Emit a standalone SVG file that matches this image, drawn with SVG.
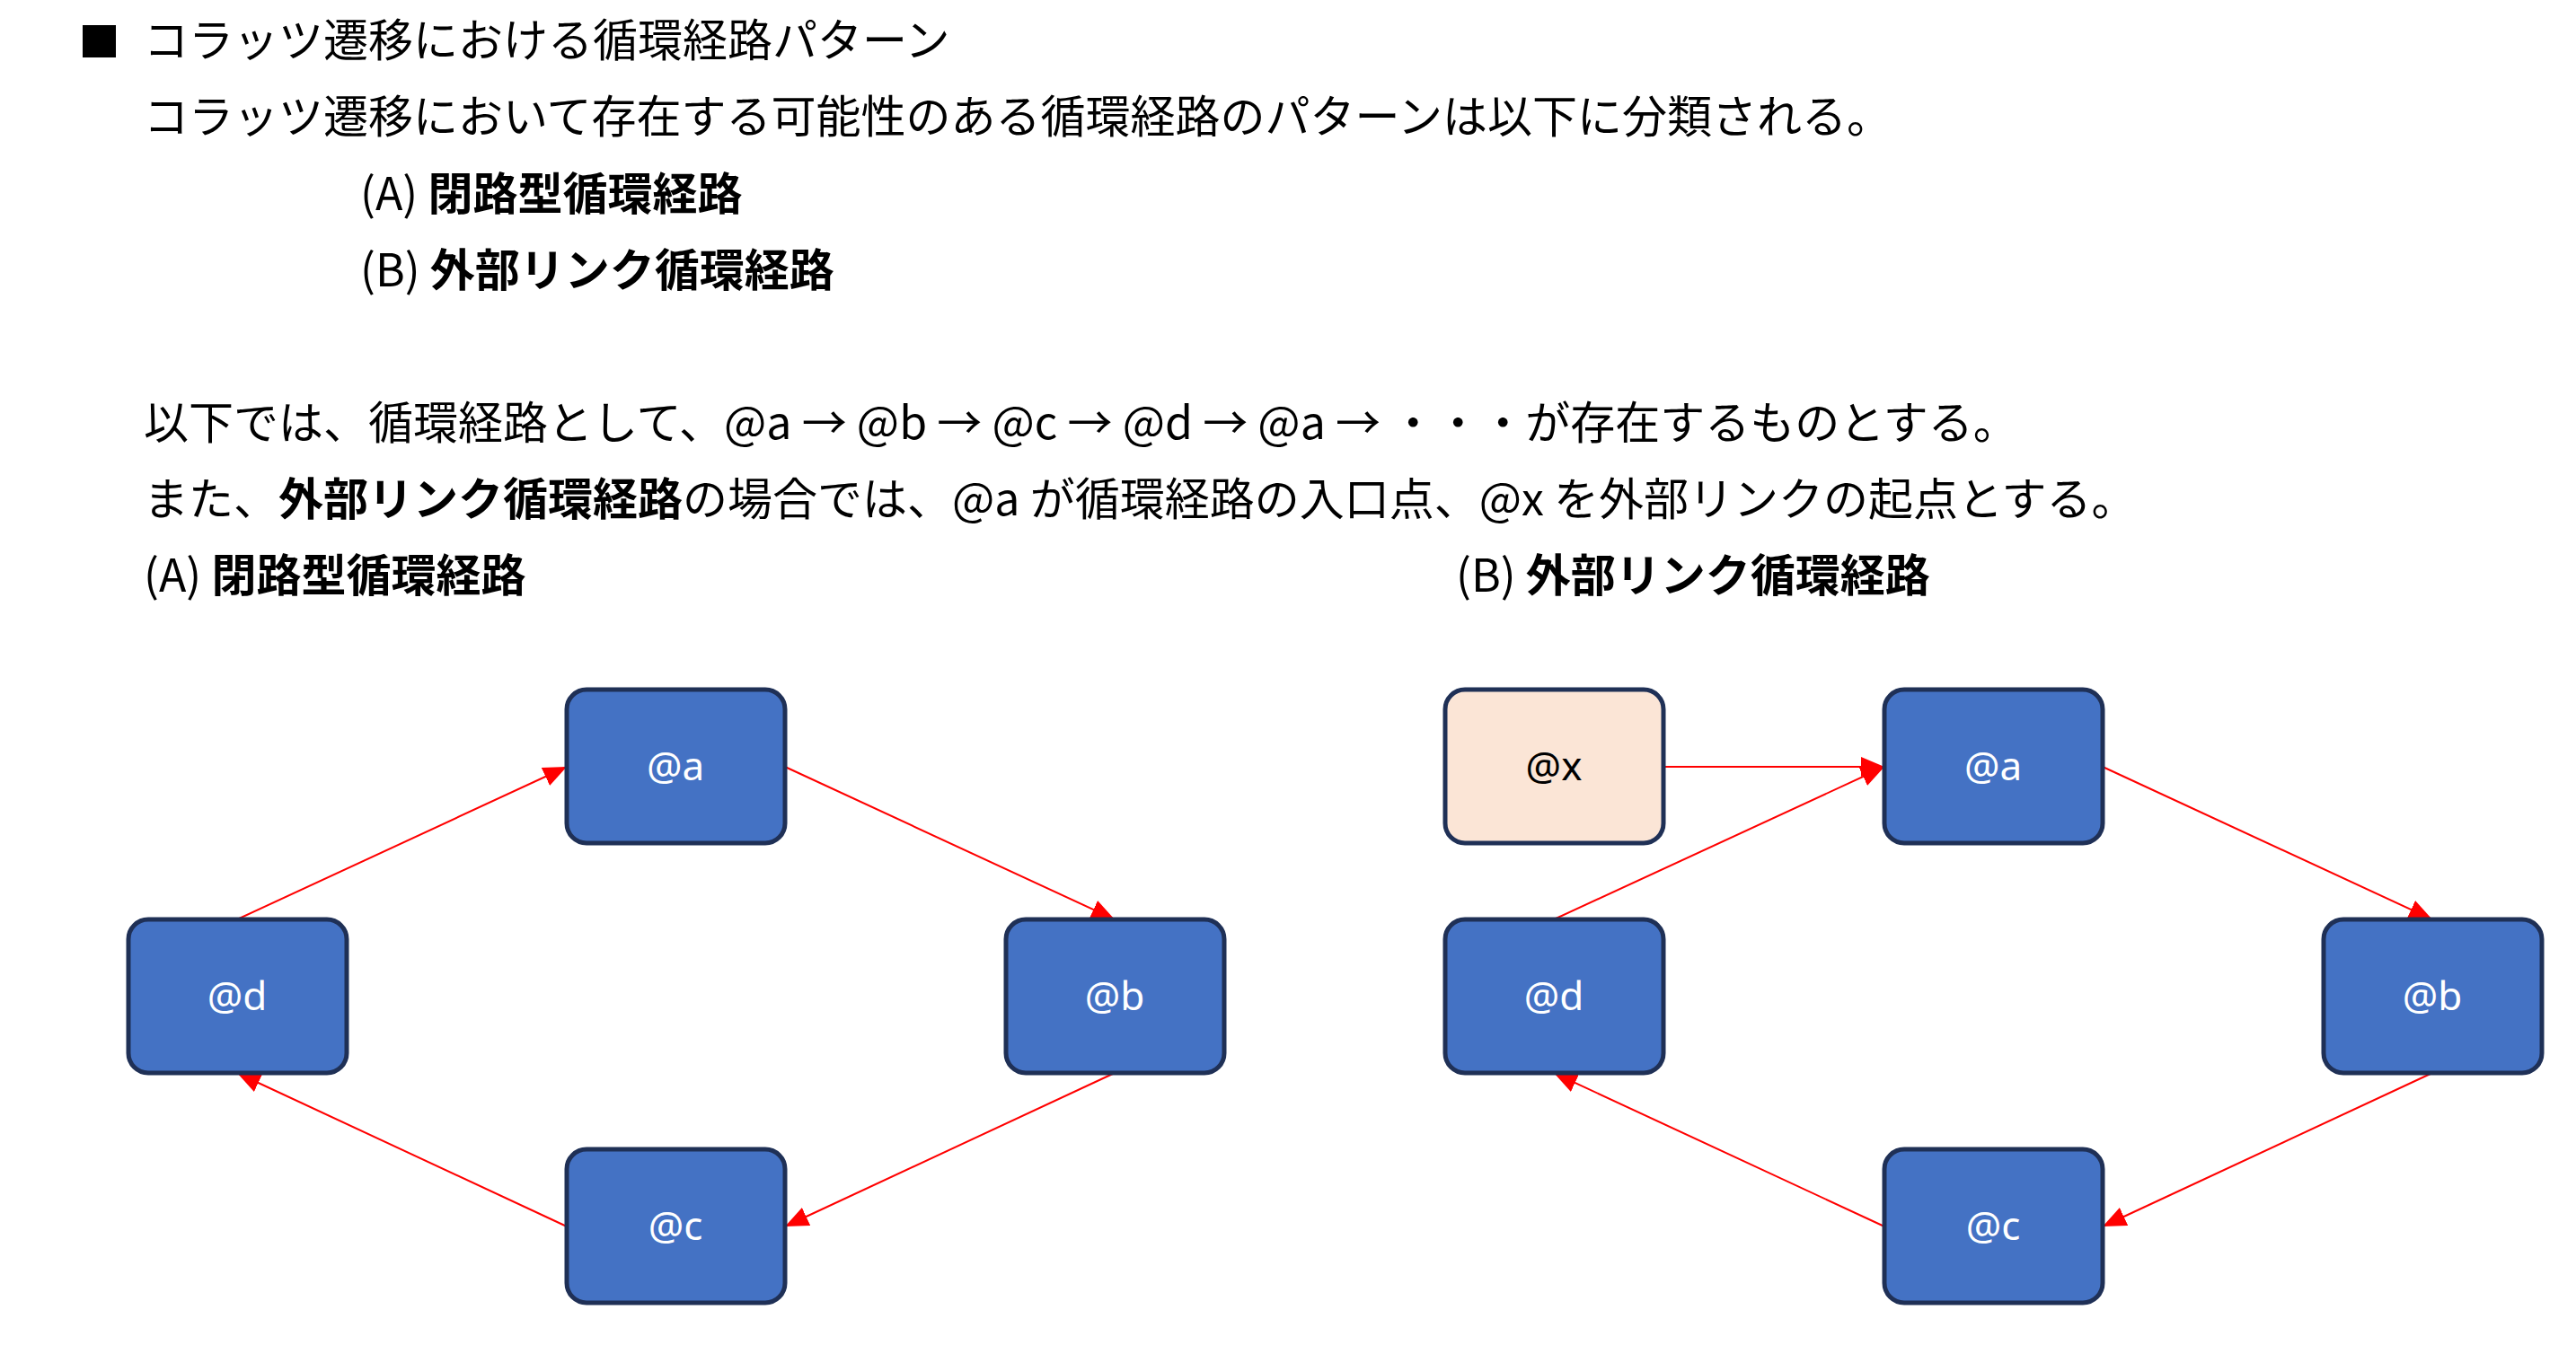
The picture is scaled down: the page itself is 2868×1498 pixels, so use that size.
<svg xmlns="http://www.w3.org/2000/svg" width="2868" height="1498" viewBox="0 0 2868 1498">
<style>
.t{font-family:"Noto Sans CJK JP","Noto Sans",sans-serif;font-size:50px;fill:#000}
.b{font-weight:bold}
.box{fill:#4472C4;stroke:#1F3056;stroke-width:5}
.bx{fill:#FBE5D6;stroke:#1F3056;stroke-width:5}
.lbl{font-family:"Noto Sans","Liberation Sans",sans-serif;font-size:44px;fill:#fff;text-anchor:middle}
.c{stroke:#FF0000;stroke-width:2;fill:none;marker-end:url(#ah)}
</style>
<defs>
<marker id="ah" markerUnits="userSpaceOnUse" markerWidth="28" markerHeight="22" refX="26" refY="11" orient="auto">
<path d="M0,0 L26,11 L0,22 Z" fill="#FF0000"/>
</marker>
</defs>
<rect width="2868" height="1498" fill="#fff"/>
<rect x="92" y="28" width="37" height="36" fill="#000"/>
<text class="t" x="160" y="63">コラッツ遷移における循環経路パターン</text>
<text class="t" x="160" y="148">コラッツ遷移において存在する可能性のある循環経路のパターンは以下に分類される。</text>
<text class="t" x="401" y="234">(A) <tspan class="b">閉路型循環経路</tspan></text>
<text class="t" x="401" y="319">(B) <tspan class="b">外部リンク循環経路</tspan></text>
<text class="t" x="160" y="489">以下では、循環経路として、@a → @b → @c → @d → @a → ・・・が存在するものとする。</text>
<text class="t" x="160" y="574">また、<tspan class="b">外部リンク循環経路</tspan>の場合では、@a が循環経路の入口点、@x を外部リンクの起点とする。</text>
<text class="t" x="160" y="659">(A) <tspan class="b">閉路型循環経路</tspan></text>
<text class="t" x="1621" y="659">(B) <tspan class="b">外部リンク循環経路</tspan></text>
<g id="connectors">
<line class="c" x1="874" y1="854" x2="1241" y2="1024"/>
<line class="c" x1="1241" y1="1195" x2="874" y2="1366"/>
<line class="c" x1="631" y1="1366" x2="264" y2="1195"/>
<line class="c" x1="264" y1="1024" x2="631" y2="854"/>
<line class="c" x1="1852" y1="854" x2="2098" y2="854" stroke-width="3"/>
<line class="c" x1="2341" y1="854" x2="2708" y2="1024"/>
<line class="c" x1="2708" y1="1195" x2="2341" y2="1366"/>
<line class="c" x1="2098" y1="1366" x2="1730" y2="1195"/>
<line class="c" x1="1730" y1="1024" x2="2098" y2="854"/>
</g>
<g id="A_a"><rect class="box" x="631" y="768" width="243" height="171" rx="22"/><text class="lbl" x="752" y="869">@a</text></g>
<g id="A_b"><rect class="box" x="1120" y="1024" width="243" height="171" rx="22"/><text class="lbl" x="1241" y="1125">@b</text></g>
<g id="A_c"><rect class="box" x="631" y="1280" width="243" height="171" rx="22"/><text class="lbl" x="752" y="1381">@c</text></g>
<g id="A_d"><rect class="box" x="143" y="1024" width="243" height="171" rx="22"/><text class="lbl" x="264" y="1125">@d</text></g>
<g id="B_x"><rect class="bx" x="1609" y="768" width="243" height="171" rx="22"/><text class="lbl" x="1730" y="869" style="fill:#000">@x</text></g>
<g id="B_a"><rect class="box" x="2098" y="768" width="243" height="171" rx="22"/><text class="lbl" x="2219" y="869">@a</text></g>
<g id="B_b"><rect class="box" x="2587" y="1024" width="243" height="171" rx="22"/><text class="lbl" x="2708" y="1125">@b</text></g>
<g id="B_c"><rect class="box" x="2098" y="1280" width="243" height="171" rx="22"/><text class="lbl" x="2219" y="1381">@c</text></g>
<g id="B_d"><rect class="box" x="1609" y="1024" width="243" height="171" rx="22"/><text class="lbl" x="1730" y="1125">@d</text></g>
</svg>
